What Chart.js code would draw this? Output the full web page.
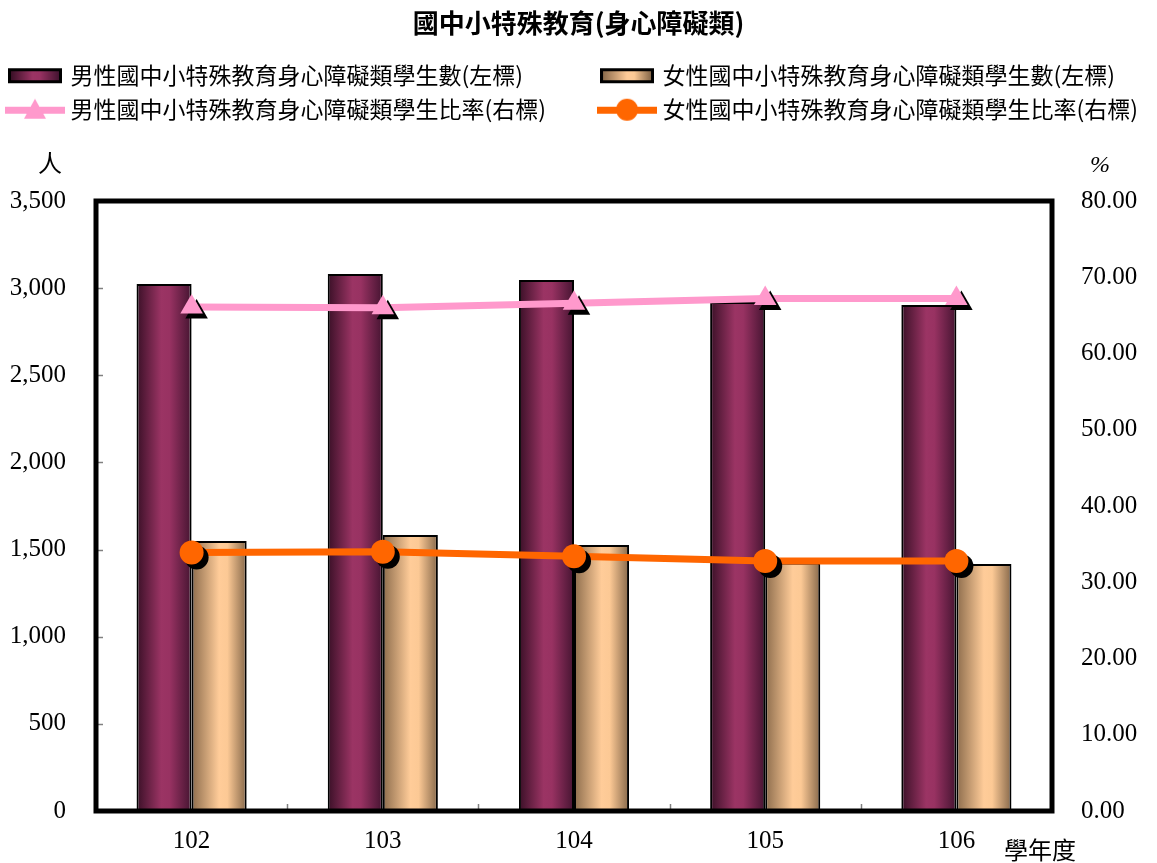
<!DOCTYPE html>
<html>
<head>
<meta charset="utf-8">
<script src="https://cdn.jsdelivr.net/npm/chart.js@4.4.1/dist/chart.umd.min.js"></script>
<style>
  html, body { margin: 0; padding: 0; background: #fff; }
  #wrap { width: 1157px; height: 863px; }
</style>
</head>
<body>
<div id="wrap"><canvas id="myChart"></canvas></div>
<script>
// data
const years = ['102', '103', '104', '105', '106'];
const maleCount = [3024, 3081, 3047, 2920, 2903];
const femaleCount = [1549, 1584, 1526, 1425, 1417];
const maleRate = [66.1, 66.0, 66.6, 67.2, 67.2];
const femaleRate = [33.9, 34.0, 33.4, 32.8, 32.8];
const leftTicks = [0, 500, 1000, 1500, 2000, 2500, 3000, 3500];
const rightTicks = [0, 10, 20, 30, 40, 50, 60, 70, 80];

const labelMaleCount = '男性國中小特殊教育身心障礙類學生數(左標)';
const labelFemaleCount = '女性國中小特殊教育身心障礙類學生數(左標)';
const labelMaleRate = '男性國中小特殊教育身心障礙類學生比率(右標)';
const labelFemaleRate = '女性國中小特殊教育身心障礙類學生比率(右標)';

const catPct = 0.576;
const cjk = "'Noto Sans CJK TC', 'Noto Sans', sans-serif";
const serif = "'Liberation Serif', 'DejaVu Serif', serif";

const maleStops = [[0, '#3a1027'], [0.45, '#9b3464'], [0.6, '#983262'], [1, '#451431']];
const femaleStops = [[0, '#8c6c4c'], [0.5, '#ffcc99'], [0.65, '#fcc995'], [1, '#86684a']];

function fillStops(g, stops) {
    stops.forEach(s => g.addColorStop(s[0], s[1]));
    return g;
}

// horizontal gradient per bar, placed from the category scale
function barFill(stops, side) {
    return function (ctx) {
        const chart = ctx.chart;
        const x = chart.scales.x;
        if (!x || !x.width) return stops[1][1];
        const center = x.getPixelForValue(ctx.dataIndex);
        const w = x.width / years.length * catPct / 2;
        const x0 = side === 0 ? center - w : center;
        return fillStops(chart.ctx.createLinearGradient(x0, 0, x0 + w, 0), stops);
    };
}

function barIcon(stops) {
    const c = document.createElement('canvas');
    c.width = 54; c.height = 17;
    const g = c.getContext('2d');
    g.fillStyle = '#000';
    g.fillRect(0, 1, 54, 15);
    g.fillStyle = fillStops(g.createLinearGradient(3, 0, 51, 0), stops);
    g.fillRect(3, 4, 48, 9);
    return c;
}

function lineIcon(color, marker) {
    const c = document.createElement('canvas');
    c.width = 60; c.height = 26;
    const g = c.getContext('2d');
    g.fillStyle = color;
    g.fillRect(0, 10, 60, 7);
    g.beginPath();
    if (marker === 'triangle') {
        g.moveTo(30, 2); g.lineTo(41, 22); g.lineTo(19, 22);
    } else {
        g.arc(30, 13, 11, 0, Math.PI * 2);
    }
    g.closePath();
    g.fill();
    return c;
}

const legendIcons = [
    barIcon(maleStops), barIcon(femaleStops),
    lineIcon('#ff99cc', 'triangle'), lineIcon('#ff6600', 'circle')
];

const markerShadow = {
    id: 'markerShadow',
    beforeDatasetDraw(chart, args) {
        if (!chart.data.datasets[args.index].shadow) return;
        const c = chart.ctx;
        c.save();
        c.shadowColor = '#000';
        c.shadowOffsetX = 5;
        c.shadowOffsetY = 5;
        c.shadowBlur = 0;
    },
    afterDatasetDraw(chart, args) {
        if (chart.data.datasets[args.index].shadow) chart.ctx.restore();
    }
};

const frameAndTitles = {
    id: 'frameAndTitles',
    beforeLayout(chart) {
        const legend = chart.legend;
        if (legend && !legend._fixed) {
            const fit = legend.fit;
            legend.fit = function () { fit.call(this); this.height = 147.8; };
            legend._fixed = true;
        }
    },
    afterDraw(chart) {
        const c = chart.ctx;
        const a = chart.chartArea;
        const x = chart.scales.x;
        const y = chart.scales.y;
        c.save();
        // small inner ticks
        c.strokeStyle = '#808080';
        c.lineWidth = 1.5;
        leftTicks.forEach(v => {
            const py = Math.round(y.getPixelForValue(v)) + 0.5;
            c.beginPath(); c.moveTo(a.left, py); c.lineTo(a.left + 7, py); c.stroke();
        });
        for (let i = 1; i < years.length; i++) {
            const px = Math.round((x.getPixelForValue(i - 1) + x.getPixelForValue(i)) / 2) + 0.5;
            c.beginPath(); c.moveTo(px, a.bottom); c.lineTo(px, a.bottom - 7); c.stroke();
        }
        // thick frame
        c.strokeStyle = '#000';
        c.lineWidth = 5;
        c.strokeRect(a.left, a.top, a.right - a.left, a.bottom - a.top);
        // axis titles
        c.fillStyle = '#000';
        c.textAlign = 'center';
        c.textBaseline = 'middle';
        c.font = '24px ' + cjk;
        c.fillText('人', 50, 163);
        c.fillText('學年度', 1040, 850);
        c.font = 'italic 24px ' + serif;
        c.fillText('%', 1100, 166);
        c.restore();
    }
};

const ctx = document.getElementById('myChart').getContext('2d');

new Chart(ctx, {
    type: 'bar',
    data: {
        labels: years,
        datasets: [
            {
                label: labelMaleCount,
                data: maleCount,
                yAxisID: 'y',
                backgroundColor: barFill(maleStops, 0),
                borderColor: '#000',
                borderWidth: 2,
                order: 3
            },
            {
                label: labelFemaleCount,
                data: femaleCount,
                yAxisID: 'y',
                backgroundColor: barFill(femaleStops, 1),
                borderColor: '#000',
                borderWidth: 2,
                order: 3
            },
            {
                type: 'line',
                label: labelMaleRate,
                data: maleRate,
                yAxisID: 'y1',
                borderColor: '#ff99cc',
                borderWidth: 7,
                pointRadius: 0,
                order: 2
            },
            {
                type: 'line',
                label: labelFemaleRate,
                data: femaleRate,
                yAxisID: 'y1',
                borderColor: '#ff6600',
                borderWidth: 7,
                pointRadius: 0,
                order: 2
            },
            {
                type: 'line',
                label: 'maleMarkers',
                data: maleRate,
                yAxisID: 'y1',
                showLine: false,
                pointStyle: 'triangle',
                pointRadius: 13,
                pointBackgroundColor: '#ff99cc',
                pointBorderWidth: 0,
                shadow: true,
                clip: false,
                order: 1
            },
            {
                type: 'line',
                label: 'femaleMarkers',
                data: femaleRate,
                yAxisID: 'y1',
                showLine: false,
                pointStyle: 'circle',
                pointRadius: 12,
                pointBackgroundColor: '#ff6600',
                pointBorderWidth: 0,
                shadow: true,
                clip: false,
                order: 1
            }
        ]
    },
    options: {
        responsive: true,
        maintainAspectRatio: false,
        animation: false,
        layout: { padding: 0 },
        datasets: {
            bar: { categoryPercentage: catPct, barPercentage: 1 }
        },
        plugins: {
            title: {
                display: true,
                text: '國中小特殊教育(身心障礙類)',
                color: '#000',
                font: { family: cjk, size: 26, weight: 'bold' },
                padding: { top: 8, bottom: 14 }
            },
            legend: {
                display: true,
                position: 'top',
                align: 'start',
                labels: {
                    color: '#000',
                    font: { family: cjk, size: 23 },
                    padding: 11,
                    usePointStyle: true,
                    pointStyleWidth: 48,
                    generateLabels: () => [
                        { text: labelMaleCount + '\u2002\u2002\u2002\u2002\u2002\u2002', pointStyle: legendIcons[0], datasetIndex: 0, fontColor: '#000', lineWidth: 0 },
                        { text: labelFemaleCount, pointStyle: legendIcons[1], datasetIndex: 1, fontColor: '#000', lineWidth: 0 },
                        { text: labelMaleRate + '\u2002\u2002\u2002\u2002', pointStyle: legendIcons[2], datasetIndex: 2, fontColor: '#000', lineWidth: 0 },
                        { text: labelFemaleRate, pointStyle: legendIcons[3], datasetIndex: 3, fontColor: '#000', lineWidth: 0 }
                    ]
                }
            },
            tooltip: { enabled: false }
        },
        scales: {
            x: {
                grid: { display: false },
                border: { display: false },
                ticks: {
                    color: '#000',
                    font: { family: serif, size: 25 },
                    padding: 7
                },
                afterFit: s => { s.height = 52; }
            },
            y: {
                position: 'left',
                min: 0,
                max: 3500,
                grid: { display: false },
                border: { display: false },
                afterBuildTicks: s => { s.ticks = leftTicks.map(v => ({ value: v })); },
                ticks: {
                    color: '#000',
                    font: { family: serif, size: 25 },
                    padding: 22,
                    callback: v => v.toLocaleString('en-US')
                },
                afterFit: s => { s.width = 96; }
            },
            y1: {
                position: 'right',
                min: 0,
                max: 80,
                grid: { display: false },
                border: { display: false },
                afterBuildTicks: s => { s.ticks = rightTicks.map(v => ({ value: v })); },
                ticks: {
                    color: '#000',
                    font: { family: serif, size: 25 },
                    padding: 21,
                    callback: v => Number(v).toFixed(2)
                },
                afterFit: s => { s.width = 105; }
            }
        }
    },
    plugins: [markerShadow, frameAndTitles]
});
</script>
</body>
</html>
